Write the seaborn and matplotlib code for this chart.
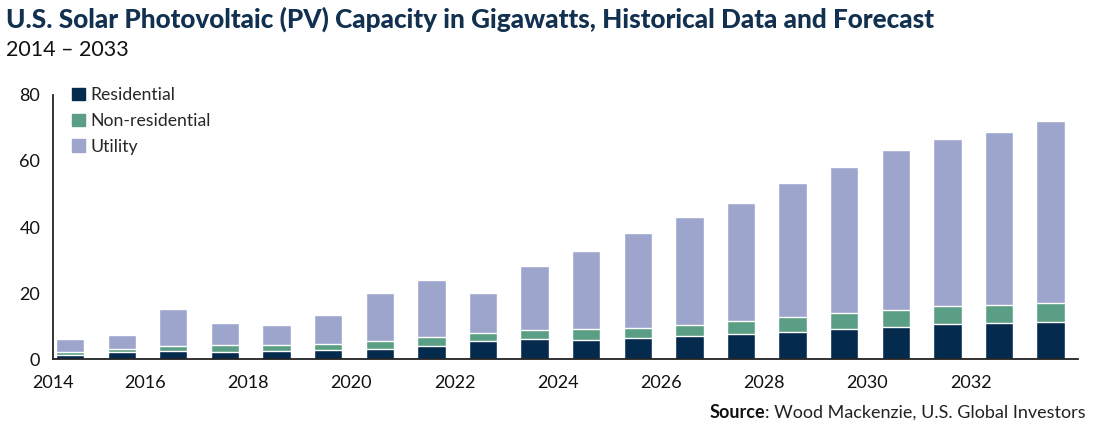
import matplotlib
matplotlib.use("Agg")
import pandas as pd
import matplotlib.pyplot as plt
import matplotlib.patches as mpatches
import seaborn as sns

# values (GW)
years = [str(y) for y in range(2014, 2034)]
residential = [1.3, 2.2, 2.5, 2.1, 2.4, 2.8, 3.2, 4.2, 5.7, 6.3,
               5.9, 6.4, 7.0, 7.6, 8.2, 9.2, 9.9, 10.6, 11.1, 11.4]
non_residential = [0.8, 1.0, 1.6, 2.4, 2.1, 2.0, 2.3, 2.5, 2.4, 2.6,
                   3.3, 3.2, 3.5, 3.9, 4.7, 4.7, 5.1, 5.4, 5.4, 5.8]
utility = [4.0, 4.2, 11.2, 6.5, 6.0, 8.6, 14.6, 17.4, 12.0, 19.4,
           23.6, 28.6, 32.6, 35.8, 40.4, 44.3, 48.2, 50.7, 52.3, 54.8]
tick_labels = ["2014", "2016", "2018", "2020", "2022", "2024", "2026", "2028", "2030", "2032"]

df = pd.DataFrame({"year": years, "Residential": residential,
                   "Non-residential": non_residential, "Utility": utility})
df["res_non"] = df["Residential"] + df["Non-residential"]
df["total"] = df["res_non"] + df["Utility"]

c_res = "#042a4d"
c_non = "#5b9e86"
c_util = "#9da5cc"
navy = "#12304f"

sns.set_style("white")
plt.rcParams["font.family"] = ["Lato", "DejaVu Sans"]

fig = plt.figure(figsize=(11, 4.33), dpi=100)
ax = fig.add_axes([0.048, 0.170, 0.932, 0.611])

# stacked bars drawn as overlapping cumulative layers
sns.barplot(data=df, x="year", y="total", color=c_util, width=0.55,
            saturation=1, ax=ax)
sns.barplot(data=df, x="year", y="res_non", color=c_non, width=0.55,
            saturation=1, ax=ax)
sns.barplot(data=df, x="year", y="Residential", color=c_res, width=0.55,
            saturation=1, ax=ax)

xmin, xmax = -0.335, 19.53
ax.set_xlim(xmin, xmax)
ax.set_ylim(0, 80)
ax.set_yticks([0, 20, 40, 60, 80])
ax.set_xticks([xmin] + [1.45 + 2 * k for k in range(9)])
ax.set_xticklabels(tick_labels)
ax.set_xlabel("")
ax.set_ylabel("")
for s in ["top", "right"]:
    ax.spines[s].set_visible(False)
for s in ["left", "bottom"]:
    ax.spines[s].set_color("#222222")
    ax.spines[s].set_linewidth(1.3)
ax.tick_params(axis="both", length=5, width=1.1, color="#222222",
               labelsize=13, labelcolor="#111111", direction="out")
ax.tick_params(axis="x", pad=6)
ax.tick_params(axis="y", pad=4)

handles = [mpatches.Patch(color=c_res, label="Residential"),
           mpatches.Patch(color=c_non, label="Non-residential"),
           mpatches.Patch(color=c_util, label="Utility")]
ax.legend(handles=handles, loc="upper left", bbox_to_anchor=(0.012, 1.055),
          frameon=False, fontsize=12.7, handlelength=0.7, handleheight=0.7,
          handletextpad=0.35, labelspacing=0.55, borderaxespad=0)

fig.text(0.005, 0.955, "U.S. Solar Photovoltaic (PV) Capacity in Gigawatts, Historical Data and Forecast",
         fontsize=18.8, fontweight="black", color=navy, va="center")
fig.text(0.005, 0.885, "2014 \u2013 2033", fontsize=15.5, color="#111111", va="center")

src = fig.text(0.987, 0.035, ": Wood Mackenzie, U.S. Global Investors",
               fontsize=13, color="#222222", ha="right", va="baseline")
ax.annotate("Source", xy=(0, 0), xycoords=src, ha="right", va="bottom",
            fontsize=13, fontweight="bold", color="#111111",
            annotation_clip=False)

fig.savefig("out.png", dpi=100)
